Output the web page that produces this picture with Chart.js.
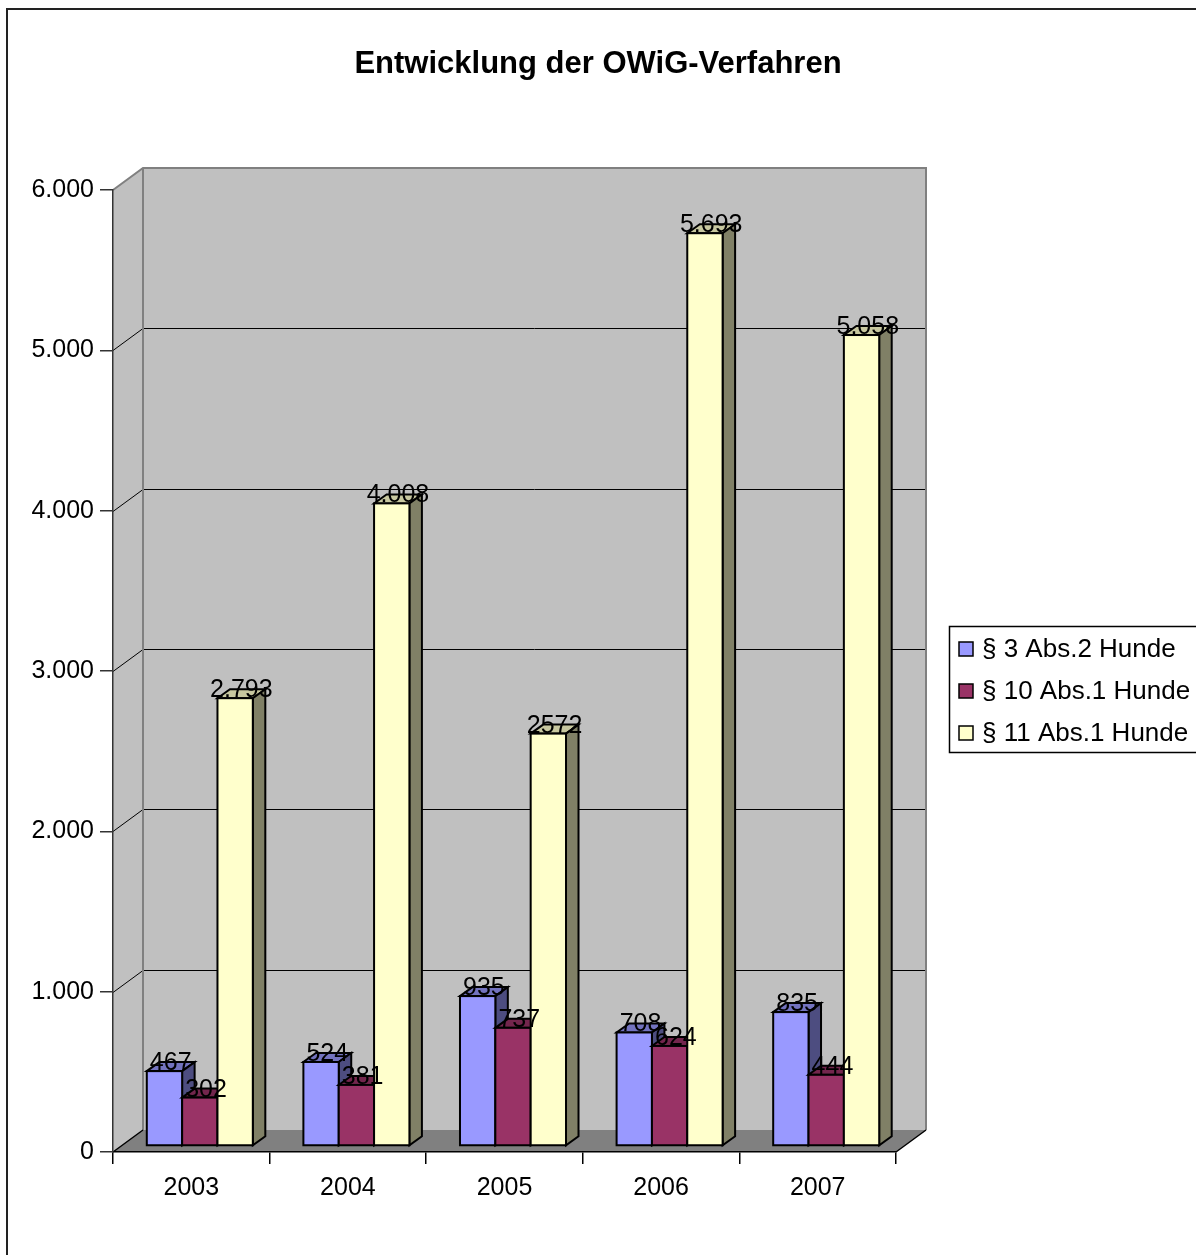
<!DOCTYPE html>
<html>
<head>
<meta charset="utf-8">
<title>Entwicklung der OWiG-Verfahren</title>
<script src="https://cdn.jsdelivr.net/npm/chart.js@4.4.1/dist/chart.umd.min.js"></script>
<style>
  body { margin: 0; background: #fff; }
  canvas { display: block; }
</style>
</head>
<body>
<canvas id="mycanvas" width="1196" height="1255"></canvas>
<script>
// data
var years = ['2003', '2004', '2005', '2006', '2007'];
var abs3 = [467, 524, 935, 708, 835];
var abs10 = [302, 381, 737, 624, 444];
var abs11 = [2793, 4008, 2572, 5693, 5058];
// labels as printed on the bars (2005 has no separator in the original)
var abs11Labels = ['2.793', '4.008', '2572', '5.693', '5.058'];
var seriesNames = ['§ 3 Abs.2 Hunde', '§ 10 Abs.1 Hunde', '§ 11 Abs.1 Hunde'];

var FONT = "'Liberation Sans', Arial, sans-serif";

// 3d look: back wall offset, bar offset and bar depth
var wallDX = 30, wallDY = -22;
var barSX = 8.5, barSY = -6;
var barDX = 12.5, barDY = -9;

function fmt(v) {
  if (v >= 1000) {
    return Math.floor(v / 1000) + '.' + String(v % 1000).padStart(3, '0');
  }
  return String(v);
}

var walls3d = {
  id: 'walls3d',
  beforeDraw: function(chart) {
    var ctx = chart.ctx;
    var a = chart.chartArea;
    var ys = chart.scales.y;
    var l = a.left, r = a.right, t = a.top, b = a.bottom;
    ctx.save();
    // back wall
    ctx.fillStyle = '#C0C0C0';
    ctx.fillRect(l + wallDX, t + wallDY, r - l, b - t);
    // left wall
    ctx.beginPath();
    ctx.moveTo(l, b);
    ctx.lineTo(l, t);
    ctx.lineTo(l + wallDX, t + wallDY);
    ctx.lineTo(l + wallDX, b + wallDY);
    ctx.closePath();
    ctx.fill();
    // floor
    ctx.fillStyle = '#808080';
    ctx.beginPath();
    ctx.moveTo(l, b);
    ctx.lineTo(r, b);
    ctx.lineTo(r + wallDX, b + wallDY);
    ctx.lineTo(l + wallDX, b + wallDY);
    ctx.closePath();
    ctx.fill();

    // grid lines on back wall + left wall
    ctx.strokeStyle = '#000';
    ctx.lineWidth = 1;
    ys.ticks.forEach(function(tk) {
      if (tk.value === 0 || tk.value === ys.max) return;
      var y = Math.round(ys.getPixelForValue(tk.value)) + 0.5;
      ctx.beginPath();
      ctx.moveTo(l, y);
      ctx.lineTo(l + wallDX, y + wallDY);
      ctx.lineTo(r + wallDX, y + wallDY);
      ctx.stroke();
    });

    // wall edges
    ctx.strokeStyle = '#808080';
    ctx.lineWidth = 2;
    ctx.beginPath();
    ctx.moveTo(l, t);
    ctx.lineTo(l + wallDX, t + wallDY);
    ctx.lineTo(r + wallDX, t + wallDY);
    ctx.lineTo(r + wallDX, b + wallDY);
    ctx.moveTo(l + wallDX, t + wallDY);
    ctx.lineTo(l + wallDX, b + wallDY);
    ctx.stroke();

    ctx.strokeStyle = '#000';
    ctx.lineWidth = 1.5;
    ctx.beginPath();
    ctx.moveTo(l, b);
    ctx.lineTo(l + wallDX, b + wallDY);
    ctx.moveTo(r, b);
    ctx.lineTo(r + wallDX, b + wallDY);
    ctx.stroke();
    ctx.restore();
  },
  beforeDatasetDraw: function() {
    return false;
  },
  afterDatasetsDraw: function(chart) {
    var ctx = chart.ctx;
    var metas = chart.data.datasets.map(function(ds, i) { return chart.getDatasetMeta(i); });
    ctx.save();
    ctx.lineWidth = 2;
    ctx.strokeStyle = '#000';
    ctx.lineJoin = 'miter';
    var labelsToDraw = [];
    for (var j = 0; j < years.length; j++) {
      for (var d = 0; d < metas.length; d++) {
        var ds = chart.data.datasets[d];
        var el = metas[d].data[j];
        var p = el.getProps(['x', 'y', 'base', 'width'], true);
        var L = p.x - p.width / 2 + barSX;
        var R = p.x + p.width / 2 + barSX;
        var T = p.y + barSY;
        var B = p.base + barSY;
        // top
        ctx.fillStyle = ds.topColor;
        ctx.beginPath();
        ctx.moveTo(L, T);
        ctx.lineTo(R, T);
        ctx.lineTo(R + barDX, T + barDY);
        ctx.lineTo(L + barDX, T + barDY);
        ctx.closePath();
        ctx.fill();
        ctx.stroke();
        // side
        ctx.fillStyle = ds.sideColor;
        ctx.beginPath();
        ctx.moveTo(R, T);
        ctx.lineTo(R + barDX, T + barDY);
        ctx.lineTo(R + barDX, B + barDY);
        ctx.lineTo(R, B);
        ctx.closePath();
        ctx.fill();
        ctx.stroke();
        // front
        ctx.fillStyle = ds.backgroundColor;
        ctx.fillRect(L, T, R - L, B - T);
        ctx.strokeRect(L, T, R - L, B - T);
        labelsToDraw.push({ x: (L + R) / 2 + barDX / 2, y: T - 1, text: ds.valueLabels[j] });
      }
    }
    ctx.fillStyle = '#000';
    ctx.font = '25px ' + FONT;
    ctx.textAlign = 'center';
    ctx.textBaseline = 'alphabetic';
    labelsToDraw.forEach(function(lb) {
      ctx.fillText(lb.text, lb.x, lb.y);
    });
    ctx.restore();
  },
  afterDraw: function(chart) {
    var ctx = chart.ctx;
    ctx.save();
    // legend box
    ctx.strokeStyle = '#000';
    ctx.lineWidth = 1.5;
    ctx.strokeRect(949.5, 626.5, 260, 126);
    ctx.font = '26px ' + FONT;
    ctx.textAlign = 'left';
    ctx.textBaseline = 'middle';
    chart.data.datasets.forEach(function(ds, i) {
      var cy = 649 + i * 42;
      ctx.fillStyle = ds.backgroundColor;
      ctx.fillRect(959, cy - 7, 14, 14);
      ctx.strokeRect(959, cy - 7, 14, 14);
      ctx.fillStyle = '#000';
      ctx.fillText(ds.label, 982, cy + 1);
    });
    // outer frame
    ctx.strokeStyle = '#222';
    ctx.lineWidth = 2;
    ctx.strokeRect(7, 9, 1220, 1280);
    ctx.restore();
  }
};

var chartdata = {
  labels: years,
  datasets: [
    {
      label: seriesNames[0],
      data: abs3,
      valueLabels: abs3.map(fmt),
      backgroundColor: '#9999FF',
      topColor: '#7373BF',
      sideColor: '#4D4D80'
    },
    {
      label: seriesNames[1],
      data: abs10,
      valueLabels: abs10.map(fmt),
      backgroundColor: '#993366',
      topColor: '#73264D',
      sideColor: '#4D1A33'
    },
    {
      label: seriesNames[2],
      data: abs11,
      valueLabels: abs11Labels,
      backgroundColor: '#FFFFCC',
      topColor: '#C8C8A0',
      sideColor: '#808066'
    }
  ]
};

var ctx = document.getElementById('mycanvas');

var barGraph = new Chart(ctx, {
  type: 'bar',
  data: chartdata,
  plugins: [walls3d],
  options: {
    responsive: false,
    animation: false,
    layout: { padding: 0 },
    datasets: {
      bar: { barPercentage: 1.0, categoryPercentage: 0.677 }
    },
    plugins: {
      legend: { display: false },
      tooltip: { enabled: false },
      title: {
        display: true,
        text: 'Entwicklung der OWiG-Verfahren',
        color: '#000',
        font: { family: FONT, size: 31, weight: 'bold', lineHeight: 1.2 },
        padding: { top: 46, bottom: 106.8 }
      }
    },
    scales: {
      x: {
        grid: { offset: true, drawOnChartArea: false, drawTicks: true, tickLength: 12, color: '#000', lineWidth: 1.5 },
        border: { display: true, color: '#000', width: 1.5 },
        ticks: { color: '#000', font: { family: FONT, size: 25 }, padding: 9, maxRotation: 0 },
        afterFit: function(s) { s.height = 103; }
      },
      y: {
        min: 0,
        max: 6000,
        grid: { drawOnChartArea: false, drawTicks: true, tickLength: 13, color: '#333', lineWidth: 1.5 },
        border: { display: true, color: '#333', width: 1.5 },
        ticks: {
          stepSize: 1000,
          color: '#000',
          font: { family: FONT, size: 25 },
          padding: 6,
          callback: function(v) { return fmt(v); }
        },
        afterFit: function(s) { s.width = 113; }
      },
      // empty box on the right that leaves room for the legend
      legendSpace: {
        type: 'linear',
        position: 'right',
        display: true,
        grid: { display: false },
        border: { display: false },
        ticks: { display: false },
        afterFit: function(s) { s.width = 300; }
      }
    }
  }
});
</script>
</body>
</html>
